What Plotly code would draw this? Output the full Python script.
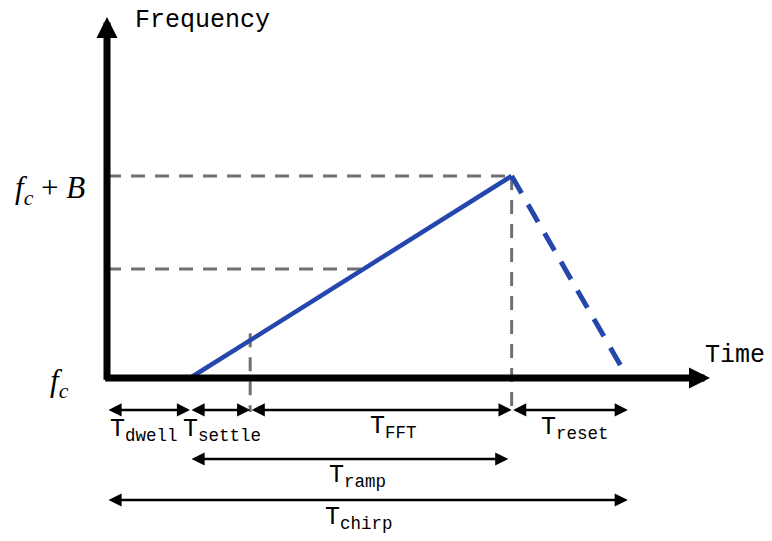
import plotly.graph_objects as go

# ---- data (time in arbitrary units, frequency normalised: f_c = 0, f_c + B = 1) ----
t_dwell = 2.0
t_settle = 1.45
t_fft = 6.3
t_reset = 2.8
f_c = 0.0
bandwidth = 1.0
f_mark = 0.54          # secondary dashed frequency marker

segment_labels = ["T<sub>dwell</sub>", "T<sub>settle</sub>", "T<sub>FFT</sub>", "T<sub>reset</sub>"]
ramp_label = "T<sub>ramp</sub>"
chirp_label = "T<sub>chirp</sub>"
y_axis_label = "Frequency"
x_axis_label = "Time"
f_top_label = "<i>f</i><sub><i>c</i></sub> + <i>B</i>"
f_c_label = "<i>f</i><sub><i>c</i></sub>"

# ---- derived times ----
t0 = 0.0
t_ramp_start = t0 + t_dwell
t_fft_start = t_ramp_start + t_settle
t_peak = t_fft_start + t_fft
t_end = t_peak + t_reset
f_top = f_c + bandwidth
f_at_fft_start = f_c + bandwidth * (t_fft_start - t_ramp_start) / (t_peak - t_ramp_start)
t_mark = t_ramp_start + (f_mark - f_c) / bandwidth * (t_peak - t_ramp_start)

# ---- layout constants ----
W, H = 764, 533
X_RANGE = [-99 / 41.5, (W - 99) / 41.5]
Y_RANGE = [-(H - 370) / 202, 370 / 202]
AXIS_T_TIP = 14.53
AXIS_F_TIP = 1.787
ROW1, ROW2, ROW3 = -0.158, -0.401, -0.604
BLUE = "#2446ad"
GREY = "#707070"
MONO = "Liberation Mono"
SERIF = "Liberation Serif"

fig = go.Figure()

# grey dashed guide lines
guides = [
    ([t0, t_peak], [f_top, f_top]),
    ([t0, t_mark], [f_mark, f_mark]),
    ([t_peak, t_peak], [f_top, ROW1 - 0.01]),
    ([t_fft_start, t_fft_start], [f_at_fft_start + 0.035, ROW1 - 0.01]),
]
for xs, ys in guides:
    fig.add_trace(go.Scatter(x=xs, y=ys, mode="lines",
                             line=dict(color=GREY, width=3, dash="14px,10px"),
                             hoverinfo="skip", showlegend=False))

annotations = []
def arrow(x_head, y_head, x_tail, y_tail, width, size, both=False):
    annotations.append(dict(
        x=x_head, y=y_head, ax=x_tail, ay=y_tail,
        xref="x", yref="y", axref="x", ayref="y",
        text="", showarrow=True, arrowhead=2, arrowsize=size, arrowwidth=width,
        arrowcolor="black", arrowside="end+start" if both else "end",
        startarrowhead=2, startarrowsize=size, standoff=0, startstandoff=0))

# axes
arrow(t0, AXIS_F_TIP, t0, -0.016, 7, 0.6)
arrow(AXIS_T_TIP, f_c, -0.08, f_c, 7, 0.6)

# chirp ramp and reset
fig.add_trace(go.Scatter(x=[t_ramp_start, t_peak], y=[f_c, f_top], mode="lines",
                         line=dict(color=BLUE, width=4.5), hoverinfo="skip", showlegend=False))
fig.add_trace(go.Scatter(x=[t_peak, t_end], y=[f_top, f_c], mode="lines",
                         line=dict(color=BLUE, width=5, dash="20px,13px"),
                         hoverinfo="skip", showlegend=False))

# interval arrows
bounds = [t0, t_ramp_start, t_fft_start, t_peak, t_end]
for i in range(4):
    arrow(bounds[i + 1], ROW1, bounds[i], ROW1, 2.5, 1.05, both=True)
arrow(t_peak - 0.08, ROW2, t_ramp_start, ROW2, 2.5, 1.05, both=True)
arrow(t_end, ROW3, t0, ROW3, 2.5, 1.05, both=True)

# interval labels
lab_font = dict(family=MONO, size=25, color="black")
label_dx = [-0.12, 0.05, 0.31, 0.12]
label_y = [-0.26, -0.26, -0.245, -0.25]
for i, lab in enumerate(segment_labels):
    xc = (bounds[i] + bounds[i + 1]) / 2 + label_dx[i]
    annotations.append(dict(x=xc, y=label_y[i], xref="x", yref="y", text=lab,
                            showarrow=False, font=lab_font, yanchor="middle"))
annotations.append(dict(x=(t_ramp_start + t_peak) / 2 + 0.16, y=-0.49, xref="x", yref="y",
                        text=ramp_label, showarrow=False, font=lab_font, yanchor="middle"))
annotations.append(dict(x=(t0 + t_end) / 2 - 0.2, y=-0.697, xref="x", yref="y",
                        text=chirp_label, showarrow=False, font=lab_font, yanchor="middle"))

# axis titles
annotations.append(dict(x=0.62, y=1.772, xref="x", yref="y", text=y_axis_label,
                        showarrow=False, font=dict(family=MONO, size=25, color="black"),
                        xanchor="left", yanchor="middle"))
annotations.append(dict(x=14.37, y=f_c + 0.11, xref="x", yref="y", text=x_axis_label,
                        showarrow=False, font=dict(family=MONO, size=25, color="black"),
                        xanchor="left", yanchor="middle"))

# frequency labels
annotations.append(dict(x=-1.38, y=f_top - 0.07, xref="x", yref="y", text=f_top_label,
                        showarrow=False, font=dict(family=SERIF, size=31, color="black")))
annotations.append(dict(x=-1.14, y=f_c - 0.025, xref="x", yref="y", text=f_c_label,
                        showarrow=False, font=dict(family=SERIF, size=31, color="black")))

fig.update_layout(
    width=W, height=H,
    margin=dict(l=0, r=0, t=0, b=0),
    paper_bgcolor="white", plot_bgcolor="white",
    xaxis=dict(range=X_RANGE, visible=False, fixedrange=True),
    yaxis=dict(range=Y_RANGE, visible=False, fixedrange=True),
    annotations=annotations,
    showlegend=False,
)

fig.write_html("out.html")
